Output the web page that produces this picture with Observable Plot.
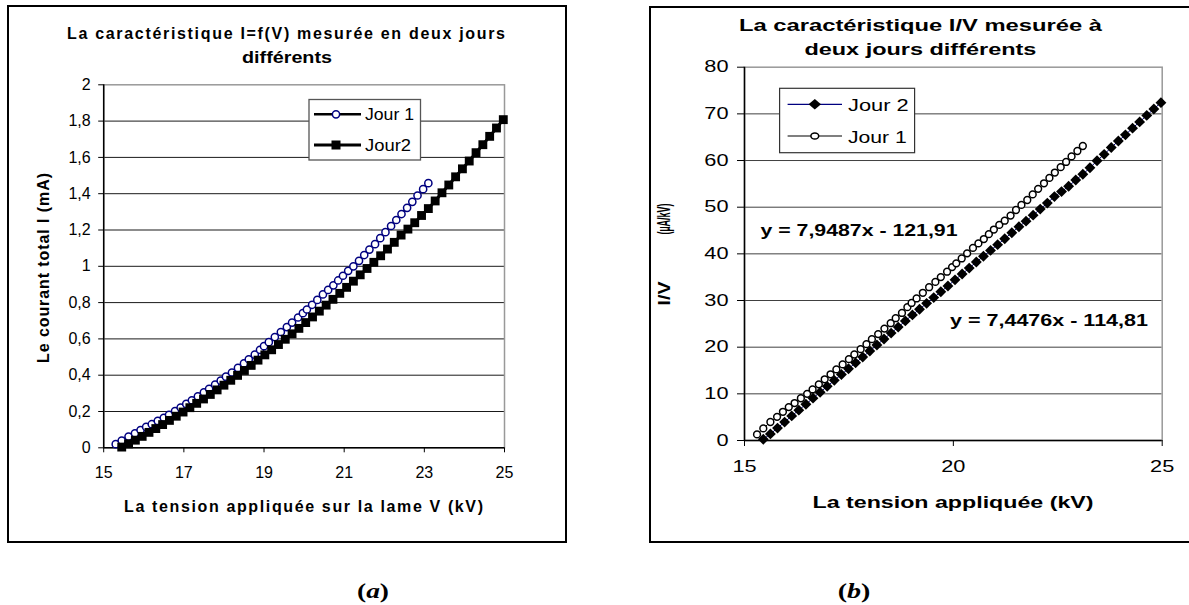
<!DOCTYPE html>
<html><head><meta charset="utf-8">
<script src="https://cdn.jsdelivr.net/npm/d3@7"></script>
<script src="https://cdn.jsdelivr.net/npm/@observablehq/plot@0.6"></script>
<style>
body{margin:0;background:#fff;width:1189px;height:605px;overflow:hidden;position:relative;font-family:"Liberation Sans",Arial,sans-serif;}
.frame{position:absolute;border:2px solid #000;box-sizing:border-box;}
#left{position:absolute;left:0;top:0;}
#right{position:absolute;left:650px;top:0;}
#overlay{position:absolute;left:0;top:0;pointer-events:none;}
</style></head><body>
<div class="frame" style="left:7px;top:5px;width:560px;height:538px"></div>
<div class="frame" style="left:649px;top:6px;width:600px;height:537px"></div>
<div id="left"></div><div id="right"></div>
<svg id="overlay" width="1189" height="605"></svg>
<script>
// ---- data ----
// Jour 1 : applied voltage (kV) and total current (mA)
const V1 = [15.30,15.45,15.62,15.78,15.92,16.06,16.20,16.35,16.50,16.63,16.78,16.92,17.06,17.20,17.35,17.50,17.63,17.78,17.92,18.05,18.20,18.35,18.50,18.62,18.77,18.90,19.00,19.12,19.27,19.42,19.57,19.70,19.85,19.97,20.07,20.20,20.33,20.47,20.60,20.73,20.85,20.97,21.10,21.23,21.37,21.50,21.63,21.77,21.90,22.03,22.17,22.30,22.43,22.57,22.70,22.83,22.97,23.10];
const I1 = [0.020,0.040,0.062,0.080,0.098,0.115,0.130,0.148,0.165,0.182,0.202,0.222,0.242,0.262,0.283,0.305,0.325,0.348,0.370,0.392,0.415,0.440,0.465,0.488,0.513,0.540,0.560,0.582,0.610,0.638,0.665,0.690,0.718,0.742,0.762,0.788,0.815,0.845,0.870,0.895,0.922,0.948,0.975,1.000,1.030,1.062,1.092,1.122,1.155,1.188,1.222,1.255,1.288,1.322,1.355,1.390,1.425,1.458];
// Jour 2
const V2 = [15.45,15.62,15.79,15.96,16.13,16.30,16.47,16.64,16.81,16.98,17.15,17.32,17.49,17.66,17.83,18.00,18.17,18.34,18.51,18.68,18.85,19.02,19.19,19.36,19.53,19.70,19.87,20.04,20.21,20.38,20.55,20.72,20.89,21.06,21.23,21.40,21.57,21.74,21.91,22.08,22.25,22.42,22.59,22.76,22.93,23.10,23.27,23.44,23.61,23.78,23.95,24.12,24.29,24.46,24.63,24.80,24.97];
const I2 = [0.004,0.022,0.042,0.063,0.085,0.106,0.128,0.151,0.174,0.197,0.221,0.245,0.269,0.294,0.319,0.345,0.372,0.399,0.426,0.454,0.483,0.512,0.540,0.569,0.598,0.628,0.658,0.690,0.721,0.753,0.786,0.818,0.851,0.884,0.918,0.953,0.988,1.022,1.058,1.095,1.132,1.172,1.205,1.240,1.280,1.318,1.360,1.405,1.448,1.493,1.537,1.580,1.626,1.670,1.716,1.762,1.808];

const xTicksA = [15,17,19,21,23,25];
const yTicksA = [0,0.2,0.4,0.6,0.8,1,1.2,1.4,1.6,1.8,2];
const xTicksB = [15,20,25];
const yTicksB = [0,10,20,30,40,50,60,70,80];

const titleA = ["La caractéristique I=f(V) mesurée en deux jours","différents"];
const xLabelA = "La tension appliquée sur la lame V (kV)";
const yLabelA = "Le courant total I (mA)";
const titleB = ["La caractéristique I/V mesurée  à","deux jours différents"];
const xLabelB = "La tension appliquée (kV)";
const yLabelB = ["I/V","(µA/kV)"];
const legendA = ["Jour 1","Jour2"];
const legendB = ["Jour 2","Jour 1"];
const eqB = ["y = 7,9487x - 121,91","y = 7,4476x - 114,81"];

// table rows; the I/V ratio (µA/kV) of panel (b) is the measured current over the voltage
const jour1 = V1.map((v,i)=>({V:v, I:I1[i], IV:I1[i]*1000/v}));
const jour2 = V2.map((v,i)=>({V:v, I:I2[i], IV:I2[i]*1000/v}));

const comma = d => String(+(+d).toFixed(1)).replace(".",",");
const font = "'Liberation Sans', Arial, sans-serif";

const plotA = Plot.plot({
  width: 566, height: 545,
  marginLeft: 103.2, marginRight: 62, marginTop: 84.3, marginBottom: 97.7,
  x: {domain:[15,25]}, y: {domain:[0,2]},
  style: {fontSize:"16px", fontFamily: font, background:"transparent", color:"#000"},
  marks: [
    Plot.gridY(yTicksA.filter(d=>d>0 && d<2), {stroke:"#000", strokeOpacity:0.9, strokeWidth:1}),
    Plot.frame({stroke:"#999", strokeWidth:1.5}),
    Plot.axisX({ticks:xTicksA, tickSize:5, tickPadding:14, tickFormat:comma, label:null}),
    Plot.axisY({ticks:yTicksA, tickSize:5, tickPadding:8, tickFormat:comma, label:null}),
    Plot.ruleX([15], {stroke:"#000", strokeWidth:1.5}),
    Plot.ruleY([0], {stroke:"#000", strokeWidth:1.5}),
    Plot.line(jour1, {x:"V", y:"I", stroke:"#000", strokeWidth:2.5}),
    Plot.dot(jour1, {x:"V", y:"I", r:3.6, stroke:"#000080", fill:"#fff", strokeWidth:1.5}),
    Plot.line(jour2, {x:"V", y:"I", stroke:"#000", strokeWidth:3}),
    Plot.dot(jour2, {x:"V", y:"I", r:5, symbol:"square", fill:"#000", stroke:"none"})
  ]
});
document.getElementById("left").append(plotA);

const plotB = Plot.plot({
  width: 539, height: 545,
  marginLeft: 94, marginRight: 27.3, marginTop: 66.7, marginBottom: 105,
  x: {domain:[15,25]}, y: {domain:[0,80]},
  style: {fontSize:"16px", fontFamily: font, background:"transparent", color:"#000"},
  marks: [
    Plot.gridY(yTicksB.filter(d=>d>0 && d<80), {stroke:"#000", strokeOpacity:0.75, strokeWidth:1}),
    Plot.frame({stroke:"#999", strokeWidth:1.5}),
    Plot.axisX({ticks:xTicksB, tickSize:6, tickPadding:14, label:null}),
    Plot.axisY({ticks:yTicksB, tickSize:7, tickPadding:9, label:null}),
    Plot.ruleX([15], {stroke:"#000", strokeWidth:1.5}),
    Plot.ruleY([0], {stroke:"#000", strokeWidth:1.5}),
    Plot.line(jour2, {x:"V", y:"IV", stroke:"#000080", strokeWidth:1}),
    Plot.dot(jour2, {x:"V", y:"IV", r:4.9, symbol:"diamond2", fill:"#000", stroke:"none"}),
    Plot.line(jour1, {x:"V", y:"IV", stroke:"#000", strokeWidth:1}),
    Plot.dot(jour1, {x:"V", y:"IV", r:3.4, stroke:"#000", fill:"#fff", strokeWidth:1.5})
  ]
});
document.getElementById("right").append(plotB);
// panel (b) text is drawn horizontally stretched in the original
d3.select(plotB).selectAll('g[aria-label$="tick label"] text').each(function(){
  const t = this.getAttribute("transform") || "";
  this.setAttribute("transform", t + " scale(1.36,1)");
});

// ---- overlay texts and legends ----
const ov = d3.select("#overlay");
function label(x, y, s, o={}) {
  const t = ov.append("text").attr("x",x).attr("y",y).text(s)
    .attr("font-size", o.size||16).attr("font-weight", o.weight||"normal")
    .attr("text-anchor", o.anchor||"start").attr("font-family", o.family||font)
    .attr("fill","#000");
  if (o.len) t.attr("textLength", o.len).attr("lengthAdjust", o.adjust||"spacingAndGlyphs");
  if (o.rotate) t.attr("transform", `rotate(${o.rotate},${x},${y})`);
  return t;
}
// vertical text compressed along its length
function vlabel(x, y, s, size, along) {
  ov.append("g").attr("transform", `translate(${x},${y}) rotate(-90) scale(${along},1)`)
    .append("text").attr("text-anchor","middle").attr("font-size",size).attr("font-weight","bold")
    .attr("font-family",font).attr("fill","#000").text(s);
}
// panel (a)
label(286, 39, titleA[0], {weight:"bold", anchor:"middle", len:438, adjust:"spacing"});
label(287, 63.3, titleA[1], {weight:"bold", anchor:"middle", len:90});
label(303.5, 512, xLabelA, {weight:"bold", anchor:"middle", len:359, adjust:"spacing"});
label(48.5, 268, yLabelA, {weight:"bold", anchor:"middle", len:190, adjust:"spacing", rotate:-90});
// legend (a)
ov.append("rect").attr("x",309).attr("y",99.5).attr("width",111.5).attr("height",60.5)
  .attr("fill","#fff").attr("stroke","#555").attr("stroke-width",1.3);
ov.append("line").attr("x1",314).attr("x2",361).attr("y1",114.3).attr("y2",114.3).attr("stroke","#000").attr("stroke-width",2.5);
ov.append("circle").attr("cx",336).attr("cy",114.3).attr("r",3.6).attr("fill","#fff").attr("stroke","#000080").attr("stroke-width",1.5);
ov.append("line").attr("x1",314).attr("x2",361).attr("y1",145).attr("y2",145).attr("stroke","#000").attr("stroke-width",3);
ov.append("rect").attr("x",331.5).attr("y",140.5).attr("width",9).attr("height",9).attr("fill","#000");
label(365, 120, legendA[0], {len:49});
label(365, 150.7, legendA[1], {len:46});

// panel (b)
label(920.5, 30.7, titleB[0], {weight:"bold", anchor:"middle", len:363, adjust:"spacingAndGlyphs"});
label(920.4, 55, titleB[1], {weight:"bold", anchor:"middle", len:232});
label(953, 508.3, xLabelB, {weight:"bold", anchor:"middle", len:281});
vlabel(670, 293.5, yLabelB[0], 17, 1.15);
vlabel(670, 219, yLabelB[1], 18, 0.5);
label(859, 236, eqB[0], {weight:"bold", anchor:"middle", len:197});
label(1049, 326, eqB[1], {weight:"bold", anchor:"middle", len:198});
// legend (b)
ov.append("rect").attr("x",779.6).attr("y",88.3).attr("width",135).attr("height",64.4)
  .attr("fill","#fff").attr("stroke","#333").attr("stroke-width",1.2);
ov.append("line").attr("x1",787.6).attr("x2",842).attr("y1",104.3).attr("y2",104.3).attr("stroke","#000080").attr("stroke-width",1.2);
ov.append("path").attr("d","M814.8,99L821,104.3L814.8,109.6L808.6,104.3Z").attr("fill","#000");
ov.append("line").attr("x1",787.6).attr("x2",842).attr("y1",136).attr("y2",136).attr("stroke","#000").attr("stroke-width",1.2);
ov.append("ellipse").attr("cx",814.8).attr("cy",136).attr("rx",3.9).attr("ry",3.1).attr("fill","#fff").attr("stroke","#000").attr("stroke-width",1.5);
label(848, 110.7, legendB[0], {len:60.6});
label(848, 142.5, legendB[1], {len:58.8});

// captions
const capA = ov.append("text").attr("x",373).attr("y",598).attr("text-anchor","middle")
  .attr("font-family","'Liberation Serif', 'Times New Roman', serif").attr("font-size",21).attr("font-weight","bold")
  .attr("textLength",32).attr("lengthAdjust","spacingAndGlyphs");
capA.append("tspan").text("(");
capA.append("tspan").attr("font-style","italic").text("a");
capA.append("tspan").text(")");
const capB = ov.append("text").attr("x",854).attr("y",598).attr("text-anchor","middle")
  .attr("font-family","'Liberation Serif', 'Times New Roman', serif").attr("font-size",21).attr("font-weight","bold")
  .attr("textLength",32.7).attr("lengthAdjust","spacingAndGlyphs");
capB.append("tspan").text("(");
capB.append("tspan").attr("font-style","italic").text("b");
capB.append("tspan").text(")");
</script>
</body></html>
